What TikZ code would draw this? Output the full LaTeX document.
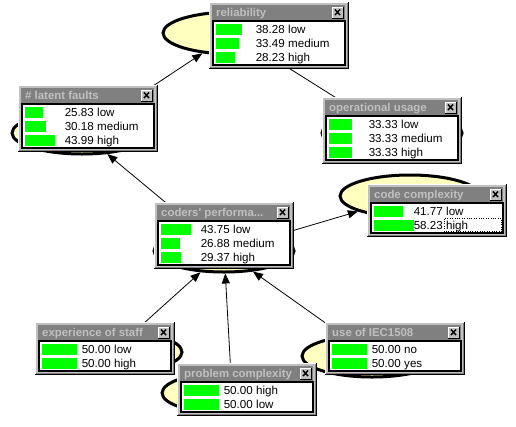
\documentclass[tikz,border=0pt]{standalone}
\usepackage{fontspec}
\setmainfont{Liberation Sans}
\usepackage{xcolor}
\definecolor{hgwin}{RGB}{192,192,192}
\definecolor{hgshade}{RGB}{128,128,128}
\definecolor{hgbar}{RGB}{0,255,0}
\definecolor{hgnode}{RGB}{255,255,192}
\usetikzlibrary{arrows.meta,shapes.geometric}

\tikzset{
  bnnode/.style={ellipse,draw=black,line width=3pt,fill=hgnode,
    minimum width=140pt,minimum height=42pt,inner sep=0pt},
  bnlink/.style={line width=0.8pt,-{Triangle[length=10pt,width=8pt]}},
  wintitle/.style={font=\fontsize{11.4}{13}\selectfont\bfseries,text=hgwin,
    inner sep=0pt,anchor=base west},
  winval/.style={font=\fontsize{11.6}{13}\selectfont,inner sep=0pt}
}

% monitor window: #1,#2 top left, #3 rows, #4 title, #5 value/state pairs
\newcommand{\monitor}[5]{%
  \begin{scope}[shift={(#1,#2)}]
    \pgfmathsetmacro{\mh}{25+14*#3}
    \fill[hgwin] (0,0) rectangle (139,\mh);
    \draw[white] (0.5,\mh-1) -- (0.5,0.5) -- (138.5,0.5);
    \draw[hgshade] (1,\mh-1.5) -- (138.5,\mh-1.5) -- (138.5,1);
    \draw (0,\mh-0.5) -- (139.5,\mh-0.5) -- (139.5,0);
    \fill[hgshade] (3,3) rectangle (136,18);
    \node[wintitle] at (7,14.5) {#4};
    % close box
    \fill[hgwin] (123,5) rectangle (134,16);
    \draw[white] (123,16) -- (123,5) -- (134,5);
    \draw (123,16) -- (134,16) -- (134,5);
    \draw[line width=1.5pt] (126,7.5) -- (131,13) (126,13) -- (131,7.5);
    \fill[white] (4,19) rectangle (136,\mh-4);
    \draw[line width=1.2pt] (4,19) rectangle (136,\mh-4);
    \foreach \val/\lab [count=\row] in {#5} {
      \pgfmathsetmacro{\yy}{13+14*\row}
      \fill[hgbar] (7,\yy-5.5) rectangle ++(0.69*\val,11);
      \node[winval,anchor=base east] at (76,\yy+4) {\val};
      \node[winval,anchor=base west] at (79,\yy+4) {\lab};
    }
  \end{scope}}

\begin{document}
\begin{tikzpicture}[x=1pt,y=-1pt]
  \useasboundingbox (0,0) rectangle (516,426);
  % network nodes
  \node[bnnode] (reliab) at (233,33) {};
  \node[bnnode] (latent) at (82,133) {};
  \node[bnnode] (opusage) at (392,133) {};
  \node[bnnode] (coders) at (224,251) {};
  \node[bnnode] (codecx) at (410,196) {};
  \node[bnnode] (expstaff) at (112,352) {};
  \node[bnnode] (probcx) at (232,393) {};
  \node[bnnode] (iec) at (372,356) {};
  % links
  \draw[bnlink] (latent) -- (reliab);
  \draw[bnlink] (opusage) -- (reliab);
  \draw[bnlink] (coders) -- (latent);
  \draw[bnlink] (coders) -- (codecx);
  \draw[bnlink] (expstaff) -- (coders);
  \draw[bnlink] (probcx) -- (coders);
  \draw[bnlink] (iec) -- (coders);
  % monitor windows
  \monitor{209}{2}{3}{reliability}{38.28/low,33.49/medium,28.23/high}
  \monitor{18}{85}{3}{\# latent faults}{25.83/low,30.18/medium,43.99/high}
  \monitor{322}{97}{3}{operational usage}{33.33/low,33.33/medium,33.33/high}
  \monitor{154}{202}{3}{coders\textquotesingle{} performa...}{43.75/low,26.88/medium,29.37/high}
  \monitor{367}{184}{2}{code complexity}{41.77/low,58.23/high}
  \draw[dotted] (444.5,218.5) rectangle (501.5,231.5);
  \monitor{35}{322}{2}{experience of staff}{50.00/low,50.00/high}
  \monitor{325}{322}{2}{use of IEC1508}{50.00/no,50.00/yes}
  \monitor{177}{363}{2}{problem complexity}{50.00/high,50.00/low}
\end{tikzpicture}
\end{document}
